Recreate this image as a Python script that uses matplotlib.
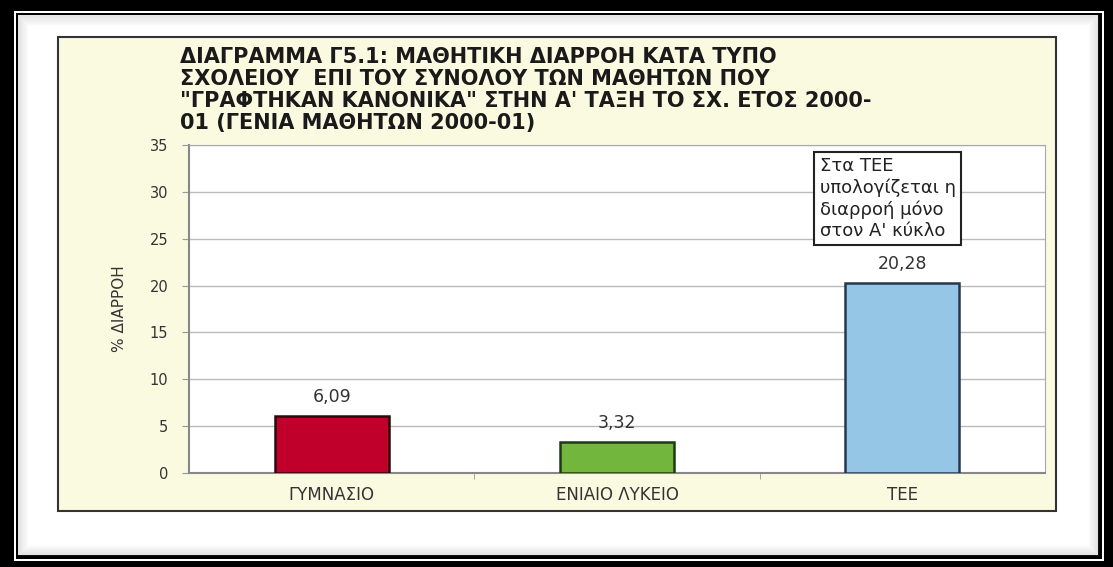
import matplotlib
matplotlib.use("Agg")
import matplotlib.pyplot as plt
from matplotlib.patches import Rectangle

# data
categories = ["ΓΥΜΝΑΣΙΟ", "ΕΝΙΑΙΟ ΛΥΚΕΙΟ", "ΤΕΕ"]
dropout = [6.09, 3.32, 20.28]
bar_colors = ["#C0002A", "#72B63E", "#96C6E6"]
edge_colors = ["#2a0a0a", "#1f3a12", "#26384d"]
y_ticks = [0, 5, 10, 15, 20, 25, 30, 35]

title = ("ΔΙΑΓΡΑΜΜΑ Γ5.1: ΜΑΘΗΤΙΚΗ ΔΙΑΡΡΟΗ ΚΑΤΑ ΤΥΠΟ\n"
         "ΣΧΟΛΕΙΟΥ  ΕΠΙ ΤΟΥ ΣΥΝΟΛΟΥ ΤΩΝ ΜΑΘΗΤΩΝ ΠΟΥ\n"
         "\"ΓΡΑΦΤΗΚΑΝ ΚΑΝΟΝΙΚΑ\" ΣΤΗΝ Α' ΤΑΞΗ ΤΟ ΣΧ. ΕΤΟΣ 2000-\n"
         "01 (ΓΕΝΙΑ ΜΑΘΗΤΩΝ 2000-01)")
note = "Στα ΤΕΕ\nυπολογίζεται η\nδιαρροή μόνο\nστον Α' κύκλο"

W, H = 1113, 567
fig = plt.figure(figsize=(W / 100, H / 100), dpi=100)


def rect(x0, y0, x1, y1, **kw):
    # pixel box (top-left origin) -> figure patch, kept behind the axes
    r = Rectangle((x0 / W, 1 - y1 / H), (x1 - x0) / W, (y1 - y0) / H,
                  transform=fig.transFigure, figure=fig, zorder=-10, **kw)
    fig.patches.append(r)
    return r


# picture frame
rect(0, 0, W, H, facecolor="black", edgecolor="none")
rect(14, 11, 1104, 561, facecolor="white", edgecolor="none")
rect(16, 13, 1102, 559, facecolor="black", edgecolor="none")
rect(18, 15, 1098, 555, facecolor="white", edgecolor="none")
for k in range(10):
    rect(18 + k, 15 + k, 1098 - k, 555 - k, facecolor="none",
         edgecolor="#707070", linewidth=1, alpha=0.15 * (1 - k / 10))

# chart area
rect(58, 37, 1056, 511, facecolor="#FAFAE1", edgecolor="#333333", linewidth=1.5)

ax = fig.add_axes([189 / W, 1 - 473 / H, 856 / W, 328 / H])
ax.set_facecolor("white")
x = range(len(categories))
ax.bar(x, dropout, width=0.4, color=bar_colors, edgecolor=edge_colors,
       linewidth=1.8, zorder=3)

for i, v in enumerate(dropout):
    ax.annotate(f"{v:.2f}".replace(".", ","), (i, v), xytext=(0, 7),
                textcoords="offset points", ha="center", va="bottom",
                fontsize=12.5, color="#333333")

ax.set_xlim(-0.5, 2.5)
ax.set_ylim(0, 35)
ax.set_yticks(y_ticks)
ax.set_yticklabels([str(t) for t in y_ticks], fontsize=10.5, color="#333333")
ax.set_xticks(list(x))
ax.set_xticklabels(categories, fontsize=12, color="#333333")
ax.tick_params(axis="x", length=0, pad=9)
ax.set_xticks([0.5, 1.5], minor=True)
ax.tick_params(axis="x", which="minor", length=4, color="#999999")
ax.tick_params(axis="y", length=5, color="#999999", pad=10)
ax.yaxis.grid(True, color="#bbbbbb", linewidth=1)
ax.set_axisbelow(True)
for s in ax.spines.values():
    s.set_color("#a8a8a8")
ax.spines["left"].set_color("#888888")
ax.spines["left"].set_linewidth(1.5)
ax.spines["bottom"].set_color("#888888")
ax.spines["bottom"].set_linewidth(1.5)

ax.set_ylabel("% ΔΙΑΡΡΟΗ", fontsize=11, color="#333333", labelpad=16)

ax.text(0.737, 0.962, note, transform=ax.transAxes, ha="left", va="top",
        fontsize=13, color="#222222", linespacing=1.22,
        bbox=dict(boxstyle="square,pad=0.3", facecolor="white",
                  edgecolor="#222222", linewidth=1.5), zorder=5)

fig.text(180 / W, 1 - 47 / H, title, ha="left", va="top", fontsize=15,
         fontweight="bold", color="#1a1a1a", linespacing=1.13)

fig.savefig("out.png", dpi=100)
